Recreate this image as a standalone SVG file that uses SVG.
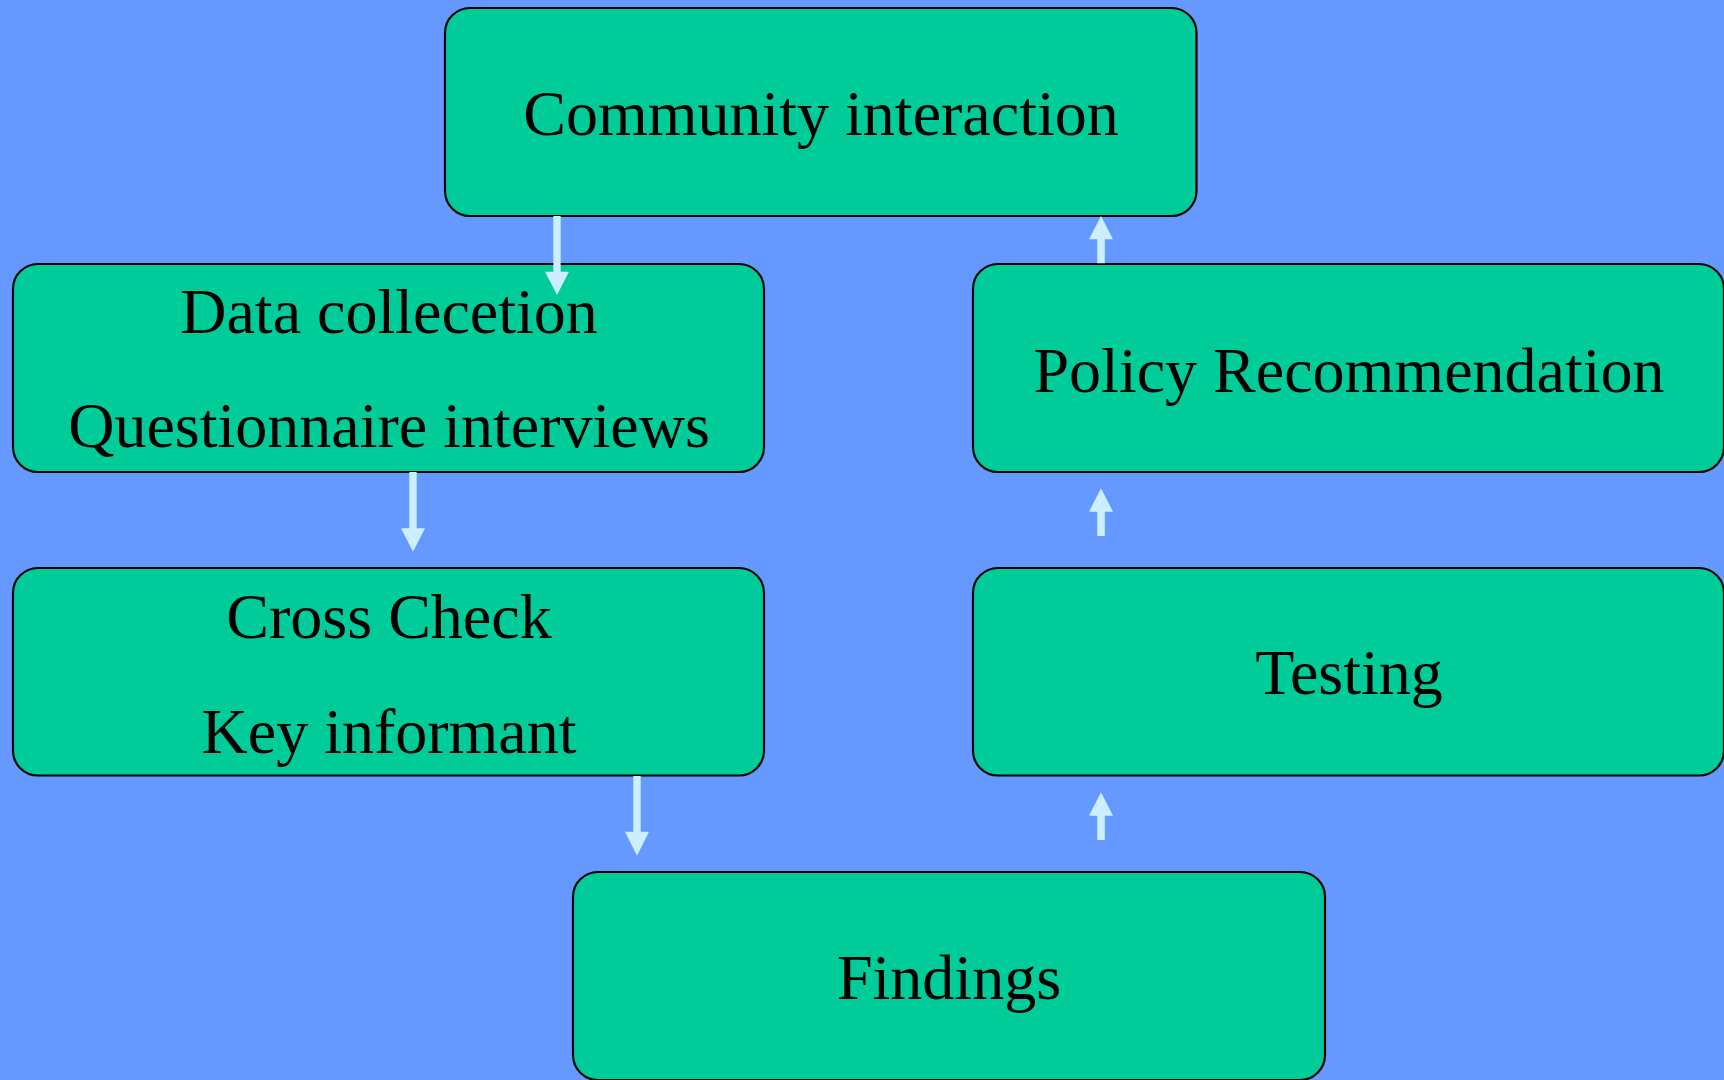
<svg xmlns="http://www.w3.org/2000/svg" width="1724" height="1080" viewBox="0 0 1724 1080">
<style>
.box{fill:#00CC99;stroke:#000;stroke-width:2.2}
.lbl{font-family:"Liberation Serif","Times New Roman",serif;font-size:64px;fill:#000;text-anchor:middle}
.arr{fill:#CCEEFF;stroke:none}
</style>
<rect width="1724" height="1080" fill="#6699FF"/>
<g id="community">
<rect class="box" x="445" y="8" width="751.5" height="208" rx="25"/>
<text class="lbl" x="821" y="135">Community interaction</text>
</g>
<g id="data-collection">
<rect class="box" x="13" y="264" width="751" height="208" rx="25"/>
<text class="lbl" x="389" y="333">Data collecetion</text>
<text class="lbl" x="389" y="447">Questionnaire interviews</text>
</g>
<g id="policy">
<rect class="box" x="973" y="264" width="751" height="208" rx="25"/>
<text class="lbl" x="1349" y="392">Policy Recommendation</text>
</g>
<g id="cross-check">
<rect class="box" x="13" y="568" width="751" height="207.5" rx="25"/>
<text class="lbl" x="389" y="638">Cross Check</text>
<text class="lbl" x="389" y="753">Key informant</text>
</g>
<g id="testing">
<rect class="box" x="973" y="568" width="751" height="207.5" rx="25"/>
<text class="lbl" x="1349" y="694">Testing</text>
</g>
<g id="findings">
<rect class="box" x="573" y="872" width="752" height="208" rx="25"/>
<text class="lbl" x="949" y="999">Findings</text>
</g>
<g id="connectors">
<polygon class="arr" points="553.3,216 560.7,216 560.7,271.7 569,271.7 557,295 545,271.7 553.3,271.7"/>
<polygon class="arr" points="409.3,472 416.7,472 416.7,528.3 425,528.3 413,551.7 401,528.3 409.3,528.3"/>
<polygon class="arr" points="633.3,776 640.7,776 640.7,831.7 649,831.7 637,855.7 625,831.7 633.3,831.7"/>
<polygon class="arr" points="1097.2,263.3 1104.8,263.3 1104.8,239.3 1113,239.3 1101,216 1089,239.3 1097.2,239.3"/>
<polygon class="arr" points="1097.2,536 1104.8,536 1104.8,511.7 1113,511.7 1101,488.3 1089,511.7 1097.2,511.7"/>
<polygon class="arr" points="1097.2,840 1104.8,840 1104.8,815.7 1113,815.7 1101,792.3 1089,815.7 1097.2,815.7"/>
</g>
</svg>
